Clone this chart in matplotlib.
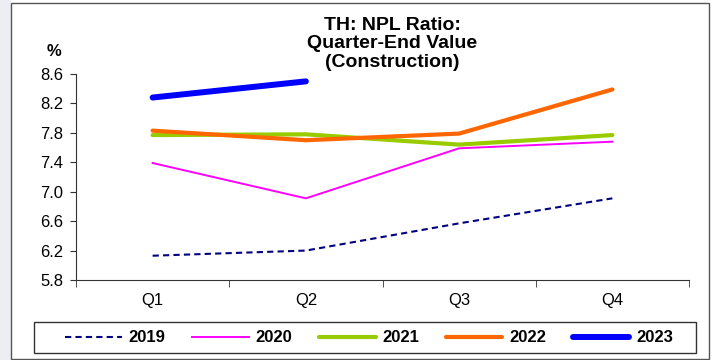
import matplotlib.pyplot as plt
from matplotlib.patches import Rectangle

quarters = ['Q1', 'Q2', 'Q3', 'Q4']
npl_2019 = [6.13, 6.20, 6.57, 6.91]
npl_2020 = [7.39, 6.91, 7.59, 7.68]
npl_2021 = [7.77, 7.78, 7.64, 7.77]
npl_2022 = [7.83, 7.70, 7.79, 8.39]
npl_2023 = [8.28, 8.50]

plt.rcParams['font.family'] = ['Liberation Sans', 'DejaVu Sans']

W, H = 712, 360
fig = plt.figure(figsize=(7.12, 3.6), dpi=100)
fig.patch.set_facecolor('white')

# outer frame
fig.patches.append(Rectangle((0, 0), 11/W, 1, transform=fig.transFigure,
                             facecolor='#eceef4', edgecolor='none', zorder=-2))
fig.patches.append(Rectangle((11/W, 0.003), 698/W, 0.99, transform=fig.transFigure,
                             facecolor='none', edgecolor='#555555', lw=1.0, zorder=-1))

ax = fig.add_axes([76/W, 1-280/H, 613/W, 206/H])
x = list(range(len(quarters)))

ax.plot(x, npl_2019, color='#000080', lw=1.5, ls=(0, (3, 2)), label='2019')
ax.plot(x, npl_2020, color='#ff00ff', lw=1.4, label='2020')
ax.plot(x, npl_2021, color='#99cc00', lw=3.0, solid_capstyle='round', label='2021')
ax.plot(x, npl_2022, color='#ff6600', lw=3.0, solid_capstyle='round', label='2022')
ax.plot(x[:len(npl_2023)], npl_2023, color='#0000ff', lw=4.3, solid_capstyle='round', label='2023')

ax.set_xlim(-0.5, 3.5)
ax.set_ylim(5.8, 8.6)
ax.set_yticks([5.8, 6.2, 6.6, 7.0, 7.4, 7.8, 8.2, 8.6])
ax.set_yticklabels(['5.8', '6.2', '6.6', '7.0', '7.4', '7.8', '8.2', '8.6'])
ax.set_xticks(x)
ax.set_xticklabels(quarters)
ax.set_xticks([-0.5, 0.5, 1.5, 2.5, 3.5], minor=True)
ax.tick_params(axis='x', which='major', length=0, pad=9, labelsize=12)
ax.tick_params(axis='x', which='minor', length=5, color='#333333')
ax.tick_params(axis='y', length=4, pad=5, labelsize=12, color='#333333')
ax.spines['top'].set_visible(False)
ax.spines['right'].set_visible(False)
ax.spines['left'].set_color('#333333')
ax.spines['bottom'].set_color('#333333')

fig.text(54/W, 1-52/H, '%', fontsize=12, fontweight='bold', ha='center', va='center')
fig.text(392/W, 1-44/H, 'TH: NPL Ratio:\nQuarter-End Value\n(Construction)',
         fontsize=14, fontweight='bold', ha='center', va='center', linespacing=1.15)

# legend box
fig.patches.append(Rectangle((34/W, 1-353/H), 662/W, 31/H, transform=fig.transFigure,
                             facecolor='white', edgecolor='#333333', lw=1.0, zorder=1))
leg = fig.legend(loc='center', bbox_to_anchor=(369/W, 1-338/H), ncol=5,
                 frameon=False, handlelength=3.4, handletextpad=0.4,
                 columnspacing=1.6, prop={'weight': 'bold', 'size': 12})
leg.set_zorder(2)

fig.savefig('out.png', dpi=100)
